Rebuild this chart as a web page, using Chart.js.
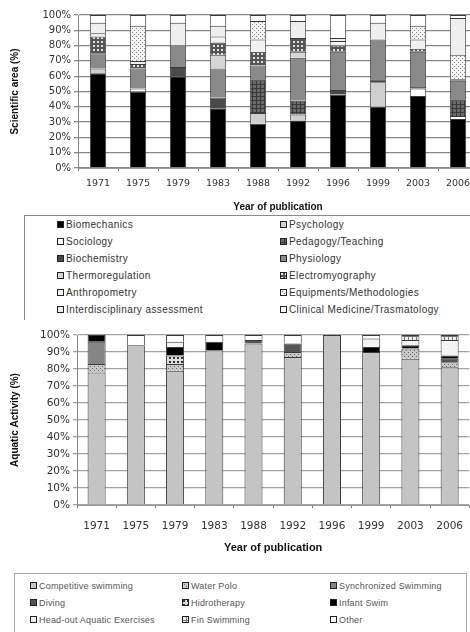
<!DOCTYPE html>
<html>
<head>
<meta charset="utf-8">
<script src="https://cdn.jsdelivr.net/npm/chart.js@4.4.1/dist/chart.umd.min.js"></script>
<style>
  body { margin: 0; width: 470px; height: 632px; overflow: hidden; background: #fff; position: relative; }
  .box { position: absolute; background: #fff; }
  .legend { position: absolute; border: 1px solid #8a8a8a; background: #fff; font-family: "Liberation Sans", Arial, sans-serif; }
  .item { position: absolute; white-space: nowrap; }
  .item canvas { vertical-align: middle; margin-right: 2px; position: relative; top: -1px; }
</style>
</head>
<body>
<div class="box" style="left:0;top:0;width:478px;height:214px"><canvas id="chart1" width="478" height="214"></canvas></div>
<div class="legend" id="legend1" style="left:24px;top:215px;width:470px;height:110px;color:#333;font-size:10px;letter-spacing:0.4px"></div>
<div class="box" style="left:0;top:320px;width:475px;height:240px"><canvas id="chart2" width="475" height="240"></canvas></div>
<div class="legend" id="legend2" style="left:14px;top:573px;width:451px;height:80px;border-color:#aaa;color:#555;font-size:9px;letter-spacing:0.2px"></div>
<script>
const years = ['1971', '1975', '1979', '1983', '1988', '1992', '1996', '1999', '2003', '2006'];
const pctLabels = ['0%', '10%', '20%', '30%', '40%', '50%', '60%', '70%', '80%', '90%', '100%'];

// scientific area (%)
const biomechanics      = [62, 50, 60, 39, 29, 31, 48, 40, 47, 32];
const psychology        = [3, 0, 0, 0, 7, 4, 0, 16, 0, 0];
const sociology         = [0, 2, 0, 0, 0, 0, 0, 0, 5, 2];
const pedagogy          = [0, 0, 0, 0, 22, 9, 0, 0, 0, 11];
const biochemistry      = [0, 0, 6, 7, 0, 0, 3, 2, 1, 0];
const physiology        = [10, 13, 14, 19, 9, 28, 25, 26, 23, 12];
const thermoregulation  = [0, 0, 0, 9, 0, 4, 0, 0, 0, 0];
const electromyography  = [11, 3, 0, 8, 9, 9, 4, 0, 2, 1];
const anthropometry     = [2, 2, 0, 4, 8, 0, 3, 0, 6, 0];
const equipments        = [0, 23, 0, 0, 12, 0, 0, 0, 9, 16];
const interdisciplinary = [7, 0, 15, 7, 0, 11, 2, 11, 0, 24];
const clinical          = [5, 7, 5, 7, 4, 4, 15, 5, 7, 2];

// aquatic activity (%)
const competitive  = [78, 94, 79, 91, 95, 87, 100, 90, 86, 81];
const waterPolo    = [5, 0, 4, 0, 0, 3, 0, 0, 6, 3];
const synchronized = [13, 0, 0, 0, 0, 0, 0, 0, 0, 0];
const diving       = [0, 0, 0, 0, 2, 5, 0, 0, 0, 2];
const hidrotherapy = [0, 0, 5, 0, 0, 0, 0, 0, 0, 0];
const infantSwim   = [4, 0, 5, 5, 0, 0, 0, 3, 2, 2];
const headOut      = [0, 0, 3, 0, 0, 0, 0, 5, 3, 9];
const finSwimming  = [0, 0, 0, 0, 0, 0, 0, 0, 3, 3];
const other        = [0, 6, 4, 4, 3, 5, 0, 2, 0, 0];

// little fill patterns like the excel ones
function pat(bg, fg, kind) {
  const c = document.createElement('canvas');
  c.width = 4; c.height = 4;
  const g = c.getContext('2d');
  g.fillStyle = bg; g.fillRect(0, 0, 4, 4);
  g.fillStyle = fg;
  if (kind === 'dots') { g.fillRect(0, 0, 1, 1); g.fillRect(2, 2, 1, 1); }
  if (kind === 'grid') { g.fillRect(0, 0, 4, 1); g.fillRect(0, 0, 1, 4); }
  if (kind === 'squares') { g.fillRect(1, 1, 2, 2); }
  return g.createPattern(c, 'repeat');
}

const sets1 = [
  ['Biomechanics', biomechanics, '#000'],
  ['Psychology', psychology, '#cfcfcf'],
  ['Sociology', sociology, '#fff'],
  ['Pedagogy/Teaching', pedagogy, pat('#6a6a6a', '#3a3a3a', 'grid')],
  ['Biochemistry', biochemistry, '#4a4a4a'],
  ['Physiology', physiology, '#8a8a8a'],
  ['Thermoregulation', thermoregulation, '#d6d6d6'],
  ['Electromyography', electromyography, pat('#555', '#e0e0e0', 'squares')],
  ['Anthropometry', anthropometry, '#f2f2f2'],
  ['Equipments/Methodologies', equipments, pat('#f4f4f4', '#8a8a8a', 'dots')],
  ['Interdisciplinary assessment', interdisciplinary, '#eeeeee'],
  ['Clinical Medicine/Trasmatology', clinical, '#fff']
];

const sets2 = [
  ['Competitive swimming', competitive, '#c4c4c4'],
  ['Water Polo', waterPolo, pat('#c8c8c8', '#666', 'dots')],
  ['Synchronized Swimming', synchronized, '#858585'],
  ['Diving', diving, '#555'],
  ['Hidrotherapy', hidrotherapy, pat('#ddd', '#333', 'squares')],
  ['Infant Swim', infantSwim, '#000'],
  ['Head-out Aquatic Exercises', headOut, '#f4f4f4'],
  ['Fin Swimming', finSwimming, pat('#eee', '#777', 'grid')],
  ['Other', other, '#fff']
];

function makeChart(id, sets, c) {
  return new Chart(document.getElementById(id), {
    type: 'bar',
    data: {
      labels: years,
      datasets: sets.map(s => ({
        label: s[0],
        data: s[1],
        backgroundColor: s[2],
        borderColor: '#3a3a3a',
        borderWidth: 1,
        barPercentage: c.bar,
        categoryPercentage: 1
      }))
    },
    options: {
      responsive: false,
      animation: false,
      layout: { padding: { top: c.top, right: 0, left: 0, bottom: 0 } },
      plugins: { legend: { display: false }, tooltip: { enabled: false } },
      scales: {
        x: {
          stacked: true,
          grid: { display: true, drawOnChartArea: false, tickLength: 3, color: '#777', offset: true },
          border: { color: '#999' },
          ticks: { font: { family: 'DejaVu Sans', size: c.tick }, color: '#333', padding: c.xpad, maxRotation: 0 },
          title: { display: true, text: 'Year of publication', color: '#111',
                   font: { family: 'Liberation Sans', size: c.xt, weight: 'bold' }, padding: { top: 0, bottom: c.xtb } },
          afterFit: s => { s.height = c.xh; }
        },
        y: {
          stacked: true,
          min: 0, max: 100,
          ticks: { stepSize: 10, font: { family: 'DejaVu Sans', size: c.ytick }, color: '#333', padding: 3,
                   callback: (v, i) => pctLabels[i] },
          grid: { color: c.grid, lineWidth: 1.3, tickLength: 4 },
          border: { color: '#888' },
          title: { display: true, text: c.ytitle, color: '#111',
                   font: { family: 'Liberation Sans', size: c.yt, weight: 'bold' }, padding: { top: 9, bottom: 0 } },
          afterFit: s => { s.width = c.yw; }
        }
      }
    }
  });
}

makeChart('chart1', sets1, { bar: 0.41, top: 15, tick: 9.5, ytick: 10, xpad: 7, xt: 10, xtb: 1, xh: 46, yw: 78,
  grid: '#888', yt: 10, ytitle: 'Scientific area (%)' });
makeChart('chart2', sets2, { bar: 0.46, top: 15, tick: 10.5, ytick: 10.5, xpad: 12, xt: 11, xtb: 5, xh: 55, yw: 77,
  grid: '#a2a2a2', yt: 10, ytitle: 'Aquatic Activity (%)' });

// legends: excel-like boxes, built from the same arrays
function swatch(fill) {
  const c = document.createElement('canvas');
  c.width = 7; c.height = 7;
  const g = c.getContext('2d');
  g.fillStyle = fill; g.fillRect(0, 0, 7, 7);
  g.strokeStyle = '#222'; g.lineWidth = 1; g.strokeRect(0.5, 0.5, 6, 6);
  return c;
}

function buildLegend(id, sets, cols, colX, rowY, rowH) {
  const box = document.getElementById(id);
  sets.forEach((s, i) => {
    const d = document.createElement('div');
    d.className = 'item';
    d.style.left = colX[i % cols] + 'px';
    d.style.top = (rowY + Math.floor(i / cols) * rowH) + 'px';
    d.appendChild(swatch(s[2]));
    d.appendChild(document.createTextNode(s[0]));
    box.appendChild(d);
  });
}

buildLegend('legend1', sets1, 2, [32, 255], 3, 17);
buildLegend('legend2', sets2, 3, [15, 167, 315], 7, 17);
</script>
</body>
</html>
